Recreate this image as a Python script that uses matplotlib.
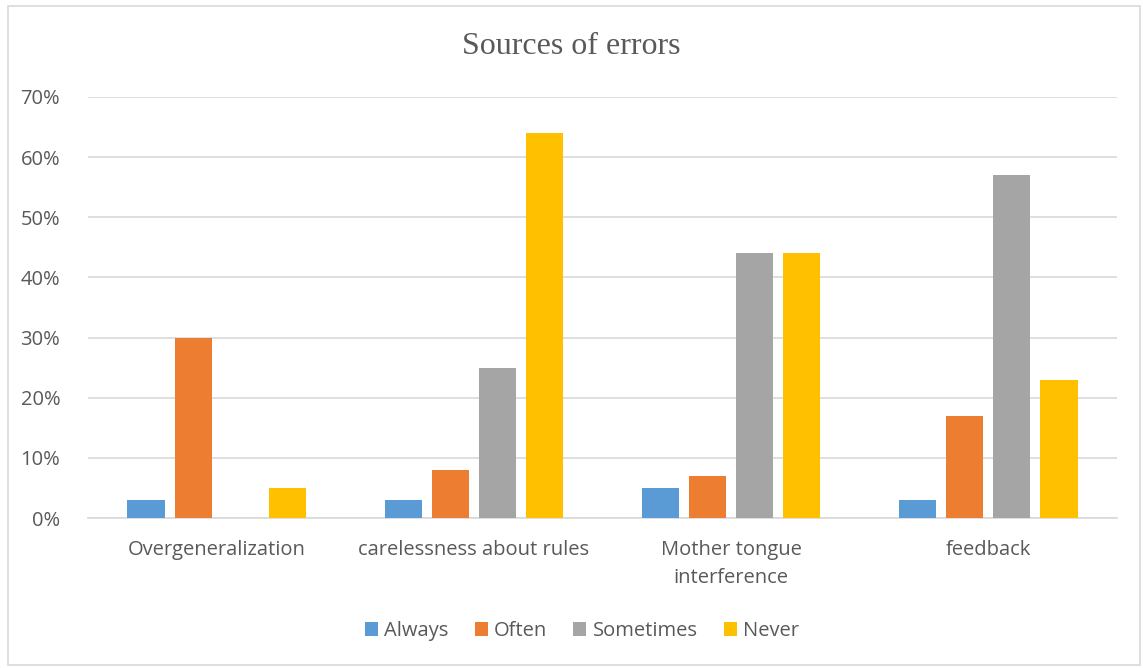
import matplotlib.pyplot as plt
import numpy as np
from matplotlib.patches import Rectangle
from matplotlib.ticker import PercentFormatter

categories = ['Overgeneralization', 'carelessness about rules',
              'Mother tongue\ninterference', 'feedback']
series = ['Always', 'Often', 'Sometimes', 'Never']
always = [3, 3, 5, 3]
often = [30, 8, 7, 17]
sometimes = [0, 25, 44, 57]
never = [5, 64, 44, 23]
colors = ['#5B9BD5', '#ED7D31', '#A5A5A5', '#FFC000']

txt = '#595959'
plt.rcParams['font.family'] = ['Open Sans', 'DejaVu Sans']

fig = plt.figure(figsize=(11.43, 6.68), dpi=100)
ax = fig.add_axes([88 / 1143, 1 - 518 / 668, (1117 - 88) / 1143, (518 - 97) / 668])

x = np.arange(len(categories))
step = 0.183
width = 0.144
for i, (name, vals) in enumerate(zip(series, [always, often, sometimes, never])):
    ax.bar(x + (i - 1.5) * step, vals, width, color=colors[i], label=name, zorder=3)

ax.set_xlim(-0.5, 3.5)
ax.set_ylim(0, 70)
ax.set_yticks(range(0, 71, 10))
ax.yaxis.set_major_formatter(PercentFormatter(decimals=0))
ax.set_xticks(x)
ax.set_xticklabels(categories, linespacing=1.55)
ax.tick_params(axis='both', length=0, labelsize=14.5, colors=txt)
ax.tick_params(axis='x', pad=16)
ax.tick_params(axis='y', pad=20)
ax.grid(axis='y', color='#D9D9D9', linewidth=1.2, zorder=0)
for s in ['top', 'right', 'left']:
    ax.spines[s].set_visible(False)
ax.spines['bottom'].set_color('#D9D9D9')
ax.spines['bottom'].set_linewidth(1.2)

fig.text(0.5, 1 - 47 / 668, 'Sources of errors', ha='center', va='center',
         fontsize=23, color=txt, family='Liberation Serif')

leg = fig.legend(loc='center', bbox_to_anchor=(582 / 1143, 1 - 631 / 668), ncol=4,
                 frameon=False, fontsize=14.5, handlelength=0.65, handleheight=0.65,
                 handletextpad=0.3, columnspacing=1.3)
for t in leg.get_texts():
    t.set_color(txt)

fig.patches.append(Rectangle((8 / 1143, 3 / 668), 1132 / 1143, 659 / 668,
                             transform=fig.transFigure, fill=False,
                             edgecolor='#D9D9D9', linewidth=1.2))

fig.savefig('out.png', dpi=100)
